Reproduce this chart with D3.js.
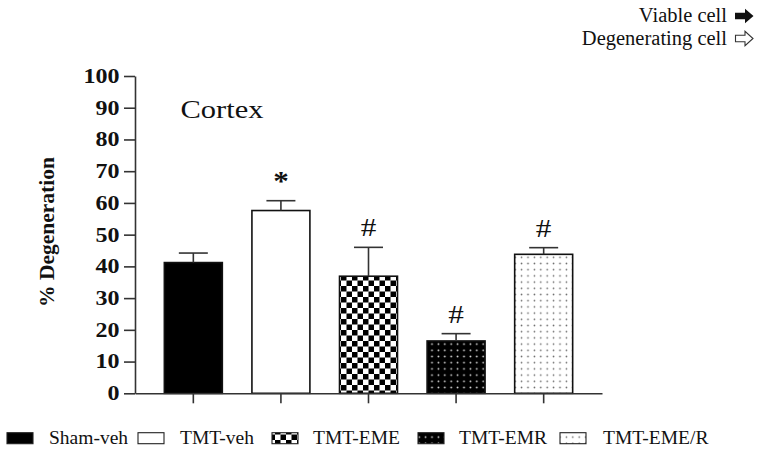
<!DOCTYPE html>
<html>
<head>
<meta charset="utf-8">
<script src="https://cdn.jsdelivr.net/npm/d3@7"></script>
<style>
  html, body { margin: 0; padding: 0; background: #fff; }
  svg { display: block; }
  text { font-family: "Liberation Serif", "Times New Roman", serif; fill: #111; }
</style>
</head>
<body>
<svg id="chart" width="762" height="449"></svg>
<script>
// ---- data ----
const categories = ["Sham-veh", "TMT-veh", "TMT-EME", "TMT-EMR", "TMT-EME/R"];
const means = [41.2, 57.6, 36.9, 16.5, 43.8];
const errors = [3.0, 3.1, 9.1, 2.3, 2.1];
const annotations = ["", "*", "#", "#", "#"];
const fills = ["black", "white", "url(#checker)", "url(#dotsDark)", "url(#dotsLight)"];
const yTicks = [0, 10, 20, 30, 40, 50, 60, 70, 80, 90, 100];
const yLabel = "% Degeneration";
const title = "Cortex";
const cellLegend = ["Viable cell", "Degenerating cell"];
// legend layout: swatch x and text x
const legendSwatchX = [7, 138, 272, 418, 560];
const legendTextX = [49, 180, 313, 459, 603];

const svg = d3.select("#chart");
const defs = svg.append("defs");

// checkerboard pattern
const chk = defs.append("pattern").attr("id", "checker")
  .attr("patternUnits", "userSpaceOnUse").attr("width", 11).attr("height", 11);
chk.append("rect").attr("width", 11).attr("height", 11).attr("fill", "white");
chk.append("rect").attr("width", 5.5).attr("height", 5.5).attr("fill", "black");
chk.append("rect").attr("x", 5.5).attr("y", 5.5).attr("width", 5.5).attr("height", 5.5).attr("fill", "black");

// dark dots
const dd = defs.append("pattern").attr("id", "dotsDark")
  .attr("patternUnits", "userSpaceOnUse").attr("width", 6.4).attr("height", 6.2);
dd.append("rect").attr("width", 6.4).attr("height", 6.2).attr("fill", "black");
dd.append("circle").attr("cx", 3.2).attr("cy", 3.1).attr("r", 0.9).attr("fill", "#ddd");

// light dots
const dl = defs.append("pattern").attr("id", "dotsLight")
  .attr("patternUnits", "userSpaceOnUse").attr("width", 6.4).attr("height", 6.2);
dl.append("rect").attr("width", 6.4).attr("height", 6.2).attr("fill", "white");
dl.append("circle").attr("cx", 3.2).attr("cy", 3.1).attr("r", 0.8).attr("fill", "#666");

// ---- scales ----
const x = d3.scaleBand().domain(categories).range([135, 602])
  .paddingInner(0.338).paddingOuter(0.335);
const y = d3.scaleLinear().domain([0, 100]).range([393.3, 76]);

// ---- bars ----
const g = svg.append("g");
g.selectAll("rect.bar").data(categories).join("rect")
  .attr("class", "bar")
  .attr("x", d => x(d))
  .attr("y", (d, i) => y(means[i]))
  .attr("width", x.bandwidth())
  .attr("height", (d, i) => y(0) - y(means[i]))
  .attr("fill", (d, i) => fills[i])
  .attr("stroke", "#111").attr("stroke-width", 1.6);

// error bars (upper only)
const capW = x.bandwidth() / 2;
categories.forEach((c, i) => {
  const cx = x(c) + x.bandwidth() / 2;
  g.append("line").attr("x1", cx).attr("x2", cx)
    .attr("y1", y(means[i])).attr("y2", y(means[i] + errors[i]))
    .attr("stroke", "#333").attr("stroke-width", 1.6);
  g.append("line").attr("x1", cx - capW / 2).attr("x2", cx + capW / 2)
    .attr("y1", y(means[i] + errors[i])).attr("y2", y(means[i] + errors[i]))
    .attr("stroke", "#333").attr("stroke-width", 1.6);
  if (annotations[i] === "*") {
    g.append("text").text("*")
      .attr("transform", `translate(${cx},${y(means[i] + errors[i]) - 11}) scale(1.15,1)`)
      .attr("text-anchor", "middle").attr("font-size", 27).attr("font-weight", "bold");
  } else if (annotations[i]) {
    g.append("text").text(annotations[i])
      .attr("transform", `translate(${cx},${y(means[i] + errors[i]) - 11}) scale(1.25,1)`)
      .attr("text-anchor", "middle").attr("font-size", 25);
  }
});

// ---- axes ----
const yAxis = svg.append("g").attr("transform", `translate(135,0)`)
  .call(d3.axisLeft(y).tickValues(yTicks).tickSize(11).tickSizeOuter(0).tickFormat(d3.format("d")));
yAxis.selectAll("path, line").attr("stroke", "#333").attr("stroke-width", 1.6);
yAxis.selectAll("text")
  .attr("x", 0)
  .attr("transform", "translate(-15.5,0) scale(1.2,1)")
  .attr("font-family", "'Liberation Serif', serif")
  .attr("font-size", 20).attr("font-weight", "bold").attr("fill", "#111");

const xAxis = svg.append("g").attr("transform", `translate(0,${y(0)})`)
  .call(d3.axisBottom(x).tickSize(10).tickSizeOuter(0).tickFormat(""));
xAxis.selectAll("path, line").attr("stroke", "#333").attr("stroke-width", 1.6);

// y label
svg.append("text").text(yLabel)
  .attr("transform", "translate(53.5,232) rotate(-90)")
  .attr("text-anchor", "middle").attr("font-size", 21.5).attr("font-weight", "bold");

// title
svg.append("text").text(title)
  .attr("transform", "translate(180.5,118.3) scale(1.22,1)")
  .attr("font-size", 25);

// ---- top-right legend ----
svg.append("text").text(cellLegend[0]).attr("x", 727).attr("y", 22)
  .attr("text-anchor", "end").attr("font-size", 20.5);
svg.append("text").text(cellLegend[1]).attr("x", 727).attr("y", 44.5)
  .attr("text-anchor", "end").attr("font-size", 20.5);
// black arrow
svg.append("path")
  .attr("d", "M735,12.8 L745,12.8 L745,8.8 L753.5,16 L745,23.2 L745,19.2 L735,19.2 Z")
  .attr("fill", "#111");
// white arrow
svg.append("path")
  .attr("d", "M735.5,35.3 L745,35.3 L745,31.3 L753,38.5 L745,45.7 L745,41.7 L735.5,41.7 Z")
  .attr("fill", "white").attr("stroke", "#333").attr("stroke-width", 1.1);

// ---- bottom legend ----
const leg = svg.append("g");
categories.forEach((c, i) => {
  leg.append("rect").attr("x", legendSwatchX[i]).attr("y", 432.7)
    .attr("width", 26).attr("height", 11)
    .attr("fill", fills[i]).attr("stroke", "#222").attr("stroke-width", 1.1);
  leg.append("text").text(c).attr("x", legendTextX[i]).attr("y", 444.3)
    .attr("font-size", 19.5);
});
</script>
</body>
</html>
